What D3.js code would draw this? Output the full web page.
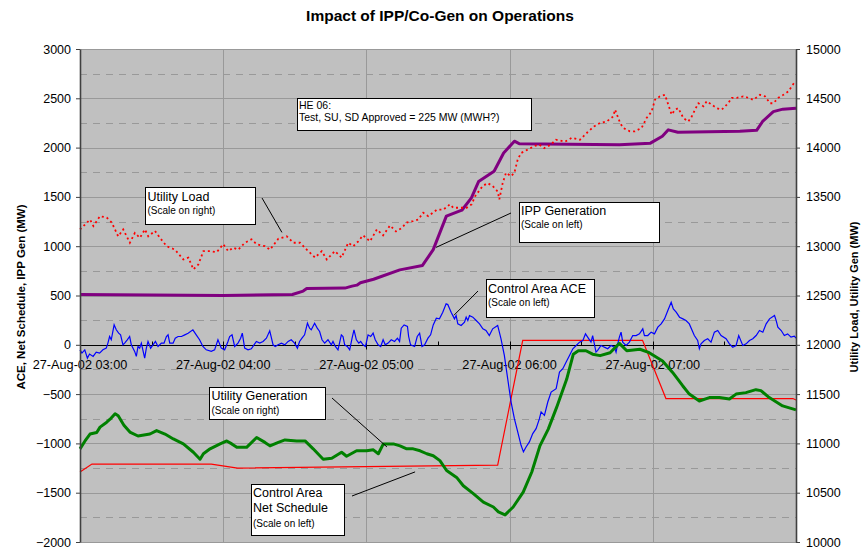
<!DOCTYPE html>
<html lang="en">
<head>
<meta charset="UTF-8">
<title>Impact of IPP/Co-Gen on Operations</title>
<style>
  body { margin: 0; background: #fff; }
  svg text { font-family: "Liberation Sans", Arial, sans-serif; fill: #000; }
  .grid-major { stroke: #999; stroke-width: 1; }
  .grid-minor { stroke: #999; stroke-width: 1; stroke-dasharray: 7,6; }
  .axis path.domain { stroke: #404040; stroke-width: 1.6; }
  .axis line { stroke: #404040; }
  .axis text { font-size: 12.5px; }
  .note rect { fill: #fff; stroke: #000; stroke-width: 1; }
  .leader { stroke: #000; stroke-width: 1; }
</style>
</head>
<body>
<script src="https://d3js.org/d3.v7.min.js"></script>
<script>
// minutes after 03:00 on 27-Aug-02
const hourMinutes = [0, 60, 120, 180, 240];
const hourLabels = ['27-Aug-02 03:00', '27-Aug-02 04:00', '27-Aug-02 05:00', '27-Aug-02 06:00', '27-Aug-02 07:00'];
const leftTicks = [-2000, -1500, -1000, -500, 0, 500, 1000, 1500, 2000, 2500, 3000];
const rightTicks = [10000, 10500, 11000, 11500, 12000, 12500, 13000, 13500, 14000, 14500, 15000];

// [minute, MW] - left scale
const netSchedule = [[0,-1290],[5,-1210],[55,-1210],[66,-1250],[175,-1220],[185.5,45],[235.7,45],[245.5,-545],[298.7,-545],[300,-560]];

const ippGen = [[0,510],[60,500],[89,510],[93.5,545],[95,570],[111,575],[114,595],[116,605],[117.5,630],[123,665],
  [134,760],[143.5,805],[148,965],[153.5,1305],[160,1365],[164,1490],[167,1655],[173.5,1760],[177.5,1945],[182,2065],
  [184,2040],[226,2030],[239,2045],[244,2115],[246.5,2180],[250.5,2155],[276.5,2165],[283.5,2175],[286,2265],[290.5,2365],
  [294.5,2390],[300,2400]];

const ace = [[0,-51],[0.8,-84],[2,-51],[3.1,-135],[4,-94],[5.5,-118],[6.8,-74],[8.2,-84],[9.6,-51],[11,-34],
  [11.7,17],[12.4,84],[13.1,51],[14.3,202],[15.2,152],[16.2,118],[17,101],[18,0],[18.7,17],[19.8,51],
  [20.8,84],[21.5,0],[22.9,-67],[23.6,-118],[24.3,-17],[25,-34],[25.7,17],[27.1,-135],[27.8,-34],[28.5,34],
  [29.6,-34],[30.6,0],[31.6,34],[32.7,-17],[34.1,17],[35.2,17],[36.2,84],[36.9,101],[37.6,17],[39,17],
  [39.9,67],[41.1,84],[42.5,84],[43.9,101],[45.3,118],[47.3,152],[48.7,101],[50.1,51],[51.5,-17],[52.9,-51],
  [55,-67],[56.4,-51],[57.8,51],[59.2,-34],[60.6,-51],[62,34],[62.7,84],[63.7,101],[64.8,-17],[66.2,17],
  [67.3,67],[68,118],[69,-34],[70.4,-51],[71.8,-40],[72.9,0],[73.9,34],[75.3,17],[76.7,34],[78.1,67],
  [79.5,142],[80.9,0],[81.8,-17],[83,0],[84.4,17],[85.8,0],[87.2,34],[88.5,51],[89.9,17],[91.1,-34],
  [92,34],[93,67],[94.1,101],[95.3,219],[96.2,169],[96.9,152],[98.3,219],[99.4,169],[100.4,135],[101.4,51],
  [102.5,17],[103.9,51],[105.3,0],[106,34],[107,-17],[108.1,-51],[109.5,101],[110.2,84],[110.9,0],[112,-17],
  [113,-51],[114,67],[114.8,152],[115.8,51],[116.8,17],[117.6,34],[118.6,0],[119.6,-17],[120.7,101],[121.8,84],
  [122.8,118],[123.7,51],[124.9,0],[126,-17],[127,51],[127.9,0],[129.1,17],[130.4,51],[131.8,34],[133,67],
  [133.9,34],[134.6,169],[135.8,202],[137.2,186],[137.7,84],[138.5,0],[140.2,-17],[141.3,84],[142.3,118],[143.3,-17],
  [144.4,0],[145.8,67],[146.9,101],[148,202],[149.3,270],[150.6,263],[152,331],[153.4,415],[154.1,408],[155.5,331],
  [156.9,263],[157.6,297],[158.3,212],[159.7,196],[161.1,229],[161.8,280],[162.5,246],[163.2,297],[164.6,280],[166,246],
  [167.4,212],[168.8,162],[170.1,145],[171.5,94],[172.9,162],[175,196],[175.7,128],[176.4,61],[177.8,-108],[179.2,-344],
  [180.6,-580],[182,-749],[183.4,-884],[184.8,-1019],[185.8,-1086],[186.9,-1036],[188.3,-985],[189.7,-901],[191.1,-850],[192.5,-749],
  [193.2,-681],[194.6,-715],[196,-580],[197.4,-479],[199.5,-445],[200.9,-277],[202.3,-243],[203.7,-175],[205.1,-108],[206.5,-40],
  [207.9,-7],[209.3,27],[210.7,44],[211.8,111],[212.7,78],[214.1,27],[214.8,94],[216.2,-74],[216.9,-57],[218.3,-7],
  [219.7,-24],[221.1,-40],[222.5,-7],[223.9,-24],[224.6,-74],[225.3,10],[226,78],[226.7,128],[227.4,27],[228.8,-7],
  [230.2,27],[231.6,94],[233,94],[234.4,111],[235.8,162],[236.5,94],[237.9,94],[239.3,128],[240.7,111],[242.1,179],
  [243.5,212],[244.9,263],[246.3,347],[247.7,432],[248.6,364],[249.8,331],[251.2,280],[252.6,263],[253.9,246],[255.3,212],
  [257.4,94],[258.8,44],[259.5,-40],[260.2,10],[261.6,44],[263,61],[264.4,27],[265.8,128],[267.2,145],[268.6,94],
  [270.7,61],[272.1,10],[273.5,-24],[274.9,-7],[276,94],[277.7,-7],[279.1,10],[280.5,44],[281.9,61],[283.3,94],
  [284.7,145],[286.1,128],[287.5,212],[288.9,263],[291,297],[291.7,246],[292.4,179],[293.8,145],[295.1,94],[296.5,111],
  [297.9,78],[299.3,88],[300,67]];

// [minute, MW] - right scale
const utilityLoad = [[0,13170],[4.2,13270],[5.6,13205],[8.4,13305],[11.2,13290],[13.3,13240],[16,13100],[18.1,13170],[20.9,13035],[23,13135],
  [25.1,13085],[27.2,13170],[28.6,13100],[31.4,13155],[33.5,13085],[36.3,13000],[39.8,12965],[43.3,12865],[45.4,12885],[47.5,12765],
  [49.6,12815],[51.7,12950],[54.5,12950],[57.3,12940],[60,13020],[62.1,12950],[64.2,12985],[66.3,12965],[69.1,13035],[71.9,13070],
  [74,13020],[77.5,13000],[79.6,12965],[83.1,13075],[86.6,13100],[89.4,13035],[92.2,13035],[95,12965],[98.5,12885],[101.3,12950],
  [103.4,12865],[106.8,12950],[109.6,12885],[112.4,13035],[114.5,13000],[116.6,13050],[118.6,13110],[121.5,13050],[124.4,13170],[127,13110],
  [129.9,13210],[132.4,13150],[134.8,13185],[136.9,13240],[139.6,13255],[141.7,13270],[143.8,13340],[145.9,13305],[149.5,13370],[152.2,13370],
  [155,13425],[156.4,13390],[159.2,13390],[162,13390],[164.1,13425],[165.5,13505],[168.7,13610],[170.8,13640],[172.9,13610],[175,13555],
  [175.7,13475],[177.1,13640],[178.5,13745],[180.6,13710],[182,13745],[183.4,13880],[184.8,13945],[187.6,13980],[190.3,14015],[192.4,14030],
  [194.5,13995],[197.3,14030],[199.4,14080],[203.2,14060],[206.1,14100],[209.5,14080],[212.8,14160],[215.4,14215],[217.9,14250],[220.7,14265],
  [223.4,14315],[224.2,14385],[226.3,14250],[227.6,14200],[230.4,14165],[232.5,14165],[235.3,14200],[237.4,14300],[239.5,14365],[240.9,14485],
  [243,14520],[245.1,14535],[246.5,14435],[247.9,14335],[249.3,14385],[250.7,14400],[252.8,14300],[254.9,14265],[256.3,14315],[257.7,14385],
  [259.1,14450],[261.2,14420],[262.6,14470],[264.7,14435],[266.8,14400],[268.9,14385],[271.6,14450],[273.1,14505],[275.2,14505],[277.9,14520],
  [280,14505],[282.1,14485],[284.9,14535],[287,14520],[289.1,14450],[290.5,14450],[292.6,14505],[294.7,14535],[296.8,14570],[299.6,14670]];

const utilityGen = [[0,10945],[2.1,11025],[4.2,11095],[7,11110],[8.4,11165],[11.2,11215],[12.6,11245],[14.7,11300],[16,11280],[18.4,11185],
  [20.9,11115],[24.3,11075],[26.8,11085],[29.3,11095],[32.1,11130],[35.6,11095],[39.1,11045],[43.3,10995],[47.5,10910],[50.3,10840],
  [51.7,10895],[54.5,10945],[58.7,10995],[61.5,11025],[63.6,10995],[65.7,10960],[69.8,10960],[74,11060],[77.5,11010],[79.6,10975],
  [83.1,11010],[85.9,11035],[90.8,11025],[94.3,11025],[97.7,10945],[101.9,10840],[105.5,10850],[109.6,10910],[111.7,10870],[115.9,10925],
  [120.1,10925],[122.9,10935],[125,10895],[127.1,10995],[131.3,10995],[134.1,10975],[136.9,10945],[139.6,10945],[142.5,10925],[145.3,10895],
  [148,10875],[150.8,10825],[153.6,10725],[157.8,10655],[160.6,10570],[164.8,10490],[169,10405],[173.2,10355],[175.3,10305],[178.1,10275],
  [181.5,10355],[185.7,10505],[189.3,10710],[192.7,10975],[196.2,11145],[199.7,11365],[203.9,11650],[206.7,11905],[208.8,11940],[212,11940],
  [214.8,11905],[217.9,11890],[222.1,11920],[226,12015],[229.1,11940],[234.6,11955],[238.5,11920],[244.1,11835],[248.3,11720],[252.5,11585],
  [255.3,11500],[259.5,11430],[263.7,11465],[267.9,11465],[272.1,11450],[274.9,11500],[279,11515],[283.2,11545],[285.3,11535],[288.8,11465],
  [294.4,11380],[300,11340]];

const width = 868, height = 548;
const plot = { left: 80, right: 796, top: 49, bottom: 542 };

const x = d3.scaleLinear().domain([0, 300]).range([plot.left, plot.right]);
const yL = d3.scaleLinear().domain([-2000, 3000]).range([plot.bottom, plot.top]);
const yR = d3.scaleLinear().domain([10000, 15000]).range([plot.bottom, plot.top]);

const svg = d3.select('body').append('svg')
  .attr('width', width)
  .attr('height', height);

svg.append('rect')
  .attr('x', plot.left).attr('y', plot.top)
  .attr('width', plot.right - plot.left).attr('height', plot.bottom - plot.top)
  .attr('fill', '#c0c0c0');

// gridlines
const minorVals = leftTicks.slice(1).map((v, i) => (v + leftTicks[i]) / 2);
svg.append('g').selectAll('line').data(minorVals).join('line')
  .attr('class', 'grid-minor')
  .attr('x1', plot.left).attr('x2', plot.right)
  .attr('y1', d => Math.round(yL(d)) + 0.5).attr('y2', d => Math.round(yL(d)) + 0.5);
svg.append('g').selectAll('line').data(leftTicks.filter(d => d !== 0)).join('line')
  .attr('class', 'grid-major')
  .attr('x1', plot.left).attr('x2', plot.right)
  .attr('y1', d => Math.round(yL(d)) + 0.5).attr('y2', d => Math.round(yL(d)) + 0.5);
svg.append('g').selectAll('line').data(hourMinutes.slice(1)).join('line')
  .attr('class', 'grid-major')
  .attr('x1', d => Math.round(x(d)) + 0.5).attr('x2', d => Math.round(x(d)) + 0.5)
  .attr('y1', plot.top).attr('y2', plot.bottom);

// zero (category) axis
const y0 = Math.round(yL(0)) + 0.5;
svg.append('line')
  .attr('x1', plot.left).attr('x2', plot.right)
  .attr('y1', y0).attr('y2', y0)
  .attr('stroke', '#000');
const tickMin = d3.range(30, 300, 30);
svg.append('g').selectAll('line').data(tickMin).join('line')
  .attr('x1', d => Math.round(x(d)) + 0.5).attr('x2', d => Math.round(x(d)) + 0.5)
  .attr('y1', y0 - 4)
  .attr('y2', d => d % 60 === 0 ? y0 + 4 : y0)
  .attr('stroke', '#000');
svg.append('g').selectAll('text').data(hourMinutes).join('text')
  .attr('x', d => x(d))
  .attr('y', y0 + 23.5)
  .attr('text-anchor', 'middle')
  .style('font-size', '12.7px')
  .text((d, i) => hourLabels[i]);

// series
const lineL = d3.line().x(d => x(d[0])).y(d => yL(d[1]));
const lineR = d3.line().x(d => x(d[0])).y(d => yR(d[1]));

svg.append('path').datum(netSchedule)
  .attr('d', lineL).attr('fill', 'none').attr('stroke', '#ff0000').attr('stroke-width', 1.2);
svg.append('path').datum(ace)
  .attr('d', lineL).attr('fill', 'none').attr('stroke', '#0000ff').attr('stroke-width', 1.2);
svg.append('path').datum(ippGen)
  .attr('d', lineL).attr('fill', 'none').attr('stroke', '#800080').attr('stroke-width', 3)
  .attr('stroke-linejoin', 'round');
svg.append('path').datum(utilityGen)
  .attr('d', lineR).attr('fill', 'none').attr('stroke', '#008000').attr('stroke-width', 3)
  .attr('stroke-linejoin', 'round');
svg.append('path').datum(utilityLoad)
  .attr('d', lineR).attr('fill', 'none').attr('stroke', '#ff0000').attr('stroke-width', 1.8)
  .attr('stroke-dasharray', '2,3');

// axes
svg.append('g')
  .attr('class', 'axis')
  .attr('transform', `translate(${plot.left},0)`)
  .call(d3.axisLeft(yL).tickValues(leftTicks).tickFormat(d3.format('d'))
    .tickSize(4).tickSizeOuter(0).tickPadding(5));
svg.append('g')
  .attr('class', 'axis')
  .attr('transform', `translate(${plot.right},0)`)
  .call(d3.axisRight(yR).tickValues(rightTicks).tickFormat(d3.format('d'))
    .tickSize(4).tickSizeOuter(0).tickPadding(6));

// titles
svg.append('text')
  .attr('x', 440).attr('y', 21)
  .attr('text-anchor', 'middle')
  .style('font-size', '15.5px').style('font-weight', 'bold')
  .text('Impact of IPP/Co-Gen on Operations');
svg.append('text')
  .attr('transform', 'translate(25,297) rotate(-90)')
  .attr('text-anchor', 'middle')
  .style('font-size', '11.5px').style('font-weight', 'bold')
  .text('ACE, Net Schedule, IPP Gen (MW)');
svg.append('text')
  .attr('transform', 'translate(858,297) rotate(-90)')
  .attr('text-anchor', 'middle')
  .style('font-size', '11px').style('font-weight', 'bold')
  .text('Utility Load, Utility Gen (MW)');

// callouts
const notes = [
  { box: [297, 98, 234, 32], tx: 299, rows: [['HE 06:', 108.5, 10.5], ['Test, SU, SD Approved = 225 MW (MWH?)', 121, 10.5]] },
  { box: [145, 187, 110, 37], tx: 147.5, rows: [['Utility Load', 201, 12.5], ['(Scale on right)', 214, 10]],
    from: [262, 198], to: [84.6, 13140], scale: yR },
  { box: [519, 202, 140, 40], tx: 521, rows: [['IPP Generation', 215, 12.5], ['(Scale on left)', 228, 10]],
    from: [511, 213], to: [149.2, 988], scale: yL },
  { box: [486, 279, 108, 38], tx: 488, rows: [['Control Area ACE', 292.5, 12.5], ['(Scale on left)', 306, 10]],
    from: [478, 291], to: [156.7, 300], scale: yL },
  { box: [209, 387, 116, 32], tx: 211.5, rows: [['Utility Generation', 400, 12.5], ['(Scale on right)', 413.5, 10]],
    from: [332, 398], to: [128.6, 10964], scale: yR },
  { box: [251, 484, 93, 51], tx: 253, rows: [['Control Area', 497, 12.5], ['Net Schedule', 512, 12.5], ['(Scale on left)', 527, 10]],
    from: [352, 496], to: [140.4, -1289], scale: yL },
];

notes.filter(n => n.from).forEach(n => {
  svg.append('line').attr('class', 'leader')
    .attr('x1', n.from[0]).attr('y1', n.from[1])
    .attr('x2', x(n.to[0])).attr('y2', n.scale(n.to[1]));
});

const noteG = svg.append('g').selectAll('g').data(notes).join('g').attr('class', 'note');
noteG.append('rect')
  .attr('x', d => d.box[0] + 0.5).attr('y', d => d.box[1] + 0.5)
  .attr('width', d => d.box[2]).attr('height', d => d.box[3]);
noteG.each(function (d) {
  d3.select(this).selectAll('text').data(d.rows).join('text')
    .attr('x', d.tx)
    .attr('y', r => r[1])
    .style('font-size', r => r[2] + 'px')
    .text(r => r[0]);
});
</script>
</body>
</html>
